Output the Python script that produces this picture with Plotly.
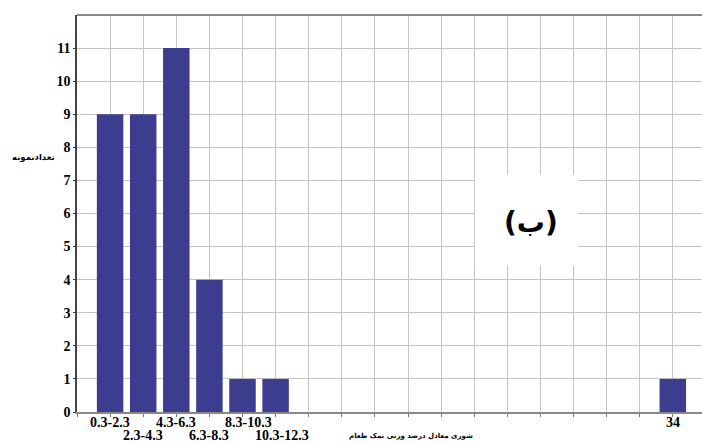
import plotly.graph_objects as go

# ---- data ----
bin_positions = [1, 2, 3, 4, 5, 6, 18]
bin_labels = ["0.3-2.3", "2.3-4.3", "4.3-6.3", "6.3-8.3", "8.3-10.3", "10.3-12.3", "34"]
label_rows = [0, 1, 0, 1, 0, 1, 0]
counts = [9, 9, 11, 4, 1, 1, 1]
y_ticks = list(range(0, 12))
y_title = "تعدادنمونه"
x_title = "شوری معادل درصد وزنی نمک طعام"
panel_label = "(ب)"

W, H = 702, 444
L, R, T, B = 77, 0, 15, 32
XMAX = (W - L) / 33.1
SERIF = "Liberation Serif, Times New Roman, serif"

fig = go.Figure()
fig.add_trace(go.Bar(
    x=bin_positions, y=counts, width=0.8,
    marker=dict(color="#3d3d8f", line=dict(width=0)),
    showlegend=False,
))

fig.update_layout(
    width=W, height=H,
    margin=dict(l=L, r=R, t=T, b=B),
    paper_bgcolor="white", plot_bgcolor="white",
    xaxis=dict(
        range=[0, XMAX], tickmode="linear", tick0=0, dtick=1,
        showticklabels=False, showgrid=True, gridcolor="#c4c4c4", gridwidth=1,
        zeroline=False, ticks="outside", ticklen=3, tickcolor="#777",
        showline=True, linecolor="#888", linewidth=1.5, mirror=False,
    ),
    yaxis=dict(
        range=[0, 12], tickvals=y_ticks, ticktext=["<b>%d</b>" % v for v in y_ticks],
        showgrid=True, gridcolor="#c4c4c4", gridwidth=1,
        zeroline=False, ticks="outside", ticklen=2, tickcolor="#333",
        showline=True, linecolor="#444", linewidth=1.5,
        tickfont=dict(family=SERIF, size=14, color="black"),
    ),
)

# top border
fig.add_shape(type="line", xref="paper", yref="paper", x0=0, x1=1, y0=1, y1=1,
              line=dict(color="#888", width=2))

# white box behind panel label
fig.add_shape(type="rect", xref="x", yref="y", x0=12.02, x1=15.13, y0=4.43, y1=7.17,
              fillcolor="white", line=dict(width=0), layer="above")

fig.add_annotation(x=13.73, y=5.72, xref="x", yref="y", text="<b>" + panel_label + "</b>",
                   showarrow=False, xanchor="center", yanchor="middle",
                   font=dict(family="DejaVu Sans", size=28, color="black"))

# x tick labels (staggered)
for pos, lab, row in zip(bin_positions, bin_labels, label_rows):
    shift = 6 if len(lab) > 7 else 0
    fig.add_annotation(x=pos, y=0, xref="x", yref="paper", text="<b>" + lab + "</b>",
                       showarrow=False, xanchor="center",
                       yanchor="top", yshift=-1 - 13 * row, xshift=shift,
                       font=dict(family=SERIF, size=14, color="black"))

# axis titles
fig.add_annotation(x=(33 - L) / (W - L), y=(412 - 158) / 397, xref="paper", yref="paper",
                   text="<b>" + y_title + "</b>", showarrow=False,
                   xanchor="center", yanchor="middle",
                   font=dict(family="DejaVu Sans", size=8.5, color="black"))
fig.add_annotation(x=(411 - L) / (W - L), y=-(436 - 412) / 397, xref="paper", yref="paper",
                   text="<b>" + x_title + "</b>", showarrow=False,
                   xanchor="center", yanchor="middle",
                   font=dict(family="DejaVu Sans", size=7, color="black"))

fig.write_html("out.html", config={"displayModeBar": False},
               post_script="document.body.style.margin='0';document.body.style.overflow='hidden';")
